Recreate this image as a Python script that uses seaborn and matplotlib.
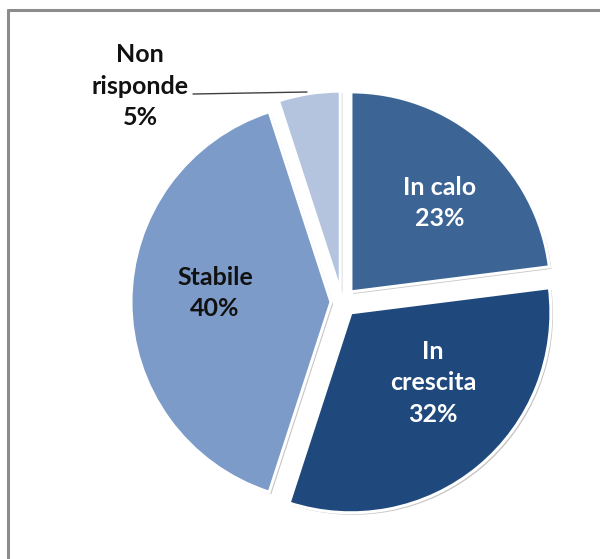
import matplotlib
matplotlib.use("Agg")
import matplotlib.pyplot as plt
import matplotlib.patheffects as pe
from matplotlib.lines import Line2D
import seaborn as sns

sns.set_theme(style="white")
plt.rcParams["font.family"] = ["Lato", "DejaVu Sans"]

# Survey answers, clockwise from the top
categories = ["In calo", "In crescita", "Stabile", "Non risponde"]
shares = [23, 32, 40, 5]
label_lines = ["In calo", "In\ncrescita", "Stabile", "Non\nrisponde"]

colors = ["#3C6494", "#1F497D", "#7C9BC8", "#B4C4DF"]
text_colors = ["white", "white", "#111111", "#111111"]
# slice offsets, in pixels (pie explode is in data units here)
explode = [13.5, 14.0, 11.0, 11.0]

W, H = 600, 559
fig = plt.figure(figsize=(W / 100, H / 100), dpi=100)
ax = fig.add_axes([0, 0, 1, 1])

center = (342, H - 302)
radius = 200

wedges, _ = ax.pie(
    shares,
    colors=colors,
    startangle=90,
    counterclock=False,
    explode=explode,
    center=center,
    radius=radius,
    wedgeprops=dict(edgecolor="white", linewidth=2.2),
    frame=True,
)
for w in wedges:
    w.set_path_effects([
        pe.SimplePatchShadow(offset=(1.5, -1.5), shadow_rgbFace="#7f7f7f", alpha=0.45),
        pe.Normal(),
    ])
ax.set_xlim(0, W)
ax.set_ylim(0, H)
ax.set_aspect("equal")
ax.axis("off")

# label anchor points (pixel coords, y measured from the top)
label_pos = [(440, 203), (433, 383), (215, 293), (140, 86)]
for name, val, (lx, ly), tc in zip(label_lines, shares, label_pos, text_colors):
    ax.text(lx, H - ly, f"{name}\n{val}%", ha="center", va="center",
            fontsize=18, fontweight="bold", color=tc, linespacing=1.43)

# leader line for the small slice
ax.plot([193, 307], [H - 94, H - 92], color="#404040", lw=1.0)

# outer frame (left and top edges)
fig.add_artist(Line2D([8 / W, 8 / W], [0, 1 - 10 / H], transform=fig.transFigure,
                      color="#8c8c8c", lw=2.2))
fig.add_artist(Line2D([8 / W, 1], [1 - 10 / H, 1 - 10 / H], transform=fig.transFigure,
                      color="#8c8c8c", lw=2.2))

fig.savefig("out.png", dpi=100, facecolor="white")
